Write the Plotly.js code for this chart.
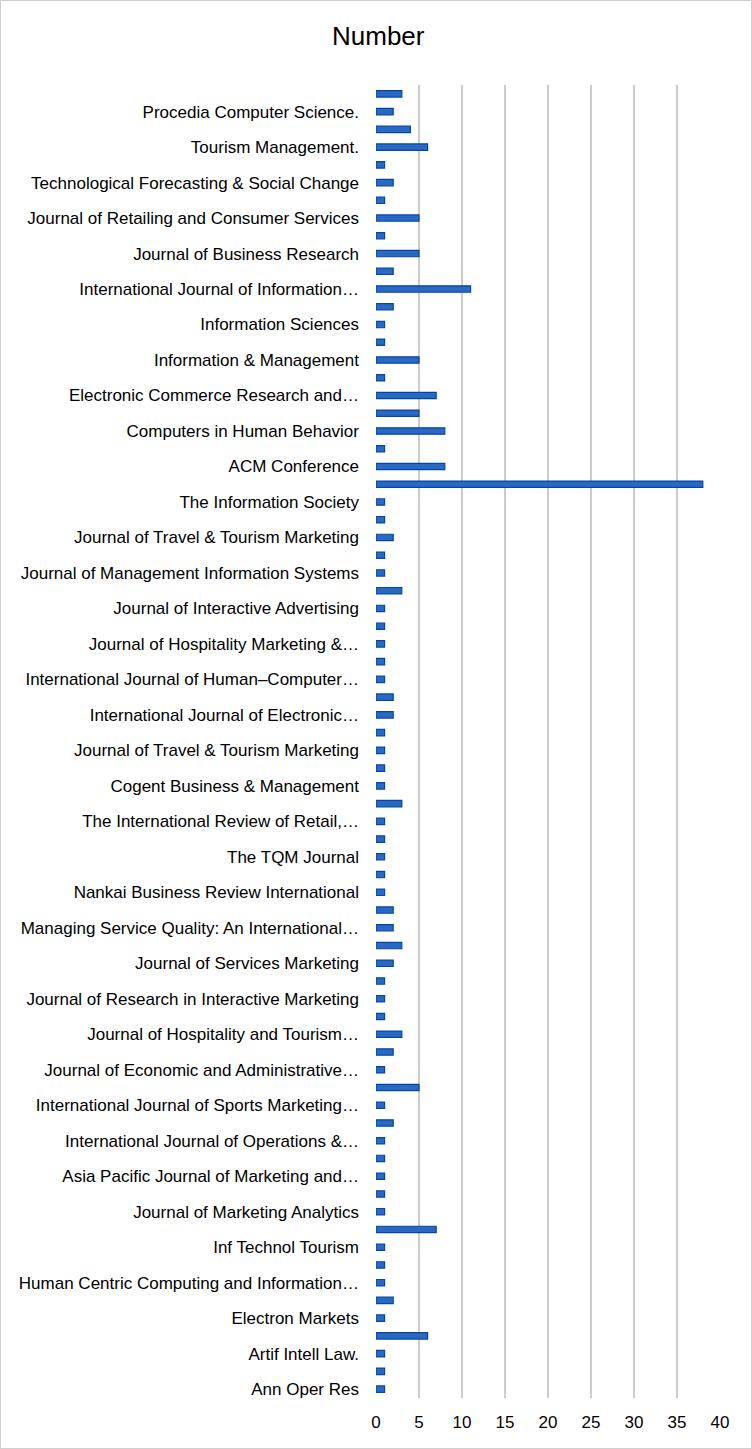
<!DOCTYPE html>
<html>
<head>
<meta charset="utf-8">
<script src="https://cdn.plot.ly/plotly-3.0.1.min.js"></script>
<style>
  html, body { margin: 0; padding: 0; background: #ffffff; }
  #frame { position: absolute; left: 0; top: 0; width: 752px; height: 1449px; box-sizing: border-box; border: 1px solid #d0d0d0; background: #fff; }
  #chart { width: 750px; height: 1447px; }
</style>
</head>
<body>
<div id="frame"><div id="chart"></div></div>
<script>
// Counts per bar, listed top to bottom (74 bars)
const counts = [3,2,4,6,1,2,1,5,1,5, 2,11,2,1,1,5,1,7,5,8, 1,8,38,1,1,2,1,1,3,1,
                1,1,1,1,2,2,1,1,1,1, 3,1,1,1,1,1,2,2,3,2, 1,1,1,3,2,1,5,1,2,1,
                1,1,1,1,7,1,1,1,2,1, 6,1,1,1];

// Visible category labels (every second bar, top to bottom, starting with the 2nd bar)
const journals = [
  "Procedia Computer Science.",
  "Tourism Management.",
  "Technological Forecasting & Social Change",
  "Journal of Retailing and Consumer Services",
  "Journal of Business Research",
  "International Journal of Information…",
  "Information Sciences",
  "Information & Management",
  "Electronic Commerce Research and…",
  "Computers in Human Behavior",
  "ACM Conference",
  "The Information Society",
  "Journal of Travel & Tourism Marketing",
  "Journal of Management Information Systems",
  "Journal of Interactive Advertising",
  "Journal of Hospitality Marketing &…",
  "International Journal of Human–Computer…",
  "International Journal of Electronic…",
  "Journal of Travel & Tourism Marketing",
  "Cogent Business & Management",
  "The International Review of Retail,…",
  "The TQM Journal",
  "Nankai Business Review International",
  "Managing Service Quality: An International…",
  "Journal of Services Marketing",
  "Journal of Research in Interactive Marketing",
  "Journal of Hospitality and Tourism…",
  "Journal of Economic and Administrative…",
  "International Journal of Sports Marketing…",
  "International Journal of Operations &…",
  "Asia Pacific Journal of Marketing and…",
  "Journal of Marketing Analytics",
  "Inf Technol Tourism",
  "Human Centric Computing and Information…",
  "Electron Markets",
  "Artif Intell Law.",
  "Ann Oper Res"
];

const xTicks = [0,5,10,15,20,25,30,35,40];

const positions = counts.map((_, i) => i);
const labelPositions = journals.map((_, k) => 2 * k + 1);

const FONT = "Liberation Sans, Arial, sans-serif";

const trace = {
  type: 'bar',
  orientation: 'h',
  x: counts,
  y: positions,
  marker: { color: '#2a68c2', line: { color: '#0048a8', width: 1.2 } },
  hoverinfo: 'x'
};

const layout = {
  width: 750,
  height: 1447,
  margin: { l: 375, r: 31, t: 84, b: 50 },
  paper_bgcolor: '#ffffff',
  plot_bgcolor: '#ffffff',
  bargap: 0.64,
  showlegend: false,
  title: {
    text: 'Number',
    font: { family: FONT, size: 26, color: '#000000' },
    xref: 'container', x: 0.503, xanchor: 'center',
    yref: 'container', y: 1 - 35 / 1447, yanchor: 'middle'
  },
  xaxis: {
    range: [0, 40],
    tickvals: xTicks,
    ticktext: xTicks.map(String),
    showgrid: true,
    gridcolor: '#cccccc',
    gridwidth: 1.6,
    zeroline: false,
    showline: false,
    ticks: '',
    ticklabelstandoff: 12,
    tickfont: { family: FONT, size: 17, color: '#000000' },
    fixedrange: true
  },
  yaxis: {
    range: [counts.length - 0.5, -0.5],
    tickvals: labelPositions,
    ticktext: journals,
    showgrid: false,
    zeroline: false,
    showline: false,
    ticks: '',
    ticklabelstandoff: 16,
    tickfont: { family: FONT, size: 17, color: '#000000' },
    fixedrange: true
  }
};

Plotly.newPlot('chart', [trace], layout, { displayModeBar: false, staticPlot: true });
</script>
</body>
</html>
